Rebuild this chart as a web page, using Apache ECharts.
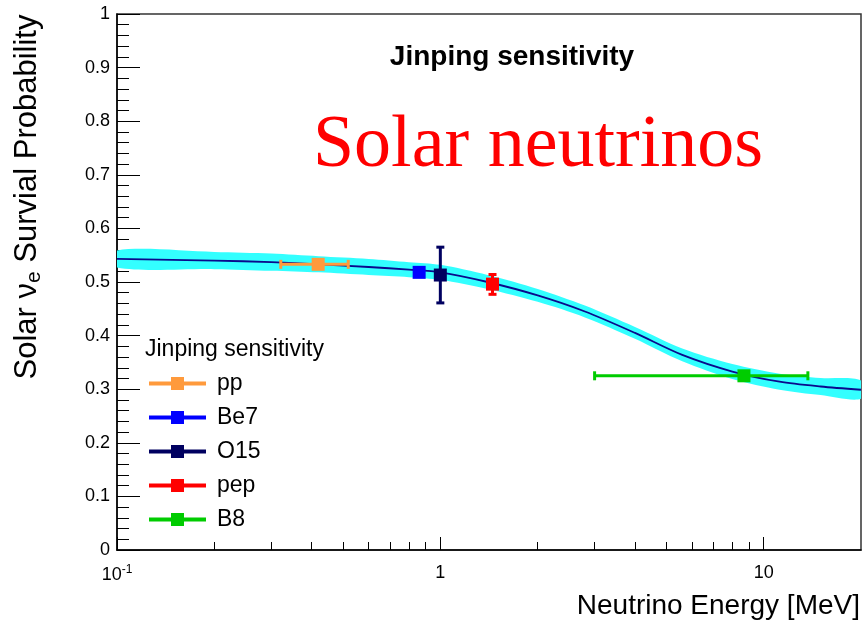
<!DOCTYPE html>
<html>
<head>
    <meta charset="utf-8">
    <title>Solar neutrinos</title>
    <script src="https://cdn.jsdelivr.net/npm/echarts@6/dist/echarts.min.js"></script>
    <style>
        body { margin: 0; background: #fff; }
    </style>
</head>
<body>
    <div id="main" style="width: 862px;height:628px;"></div>
    <script type="text/javascript">
        // survival probability curve (energy in MeV)
        var curveE = [0.1, 0.2, 0.3, 0.42, 0.6, 0.8, 1.0, 1.4, 2.0, 2.8, 4.0, 5.6, 8, 11.2, 15, 20];
        var curveP = [0.543, 0.540, 0.537, 0.533, 0.528, 0.523, 0.518, 0.500, 0.475, 0.445, 0.405, 0.364, 0.333, 0.314, 0.305, 0.299];
        // cyan uncertainty band
        var bandHi = [0.559, 0.556, 0.553, 0.548, 0.543, 0.537, 0.532, 0.513, 0.487, 0.456, 0.416, 0.376, 0.347, 0.329, 0.321, 0.316];
        var bandLo = [0.527, 0.524, 0.521, 0.518, 0.513, 0.509, 0.504, 0.487, 0.463, 0.434, 0.394, 0.352, 0.319, 0.299, 0.289, 0.282];

        // Jinping sensitivity points
        var srcNames = ['pp', 'Be7', 'O15', 'pep', 'B8'];
        var srcE     = [0.419, 0.86, 1.0, 1.45, 8.69];
        var srcP     = [0.533, 0.518, 0.513, 0.496, 0.325];
        var srcElo   = [0.321, 0.86, 1.0, 1.45, 3.0];
        var srcEhi   = [0.519, 0.86, 1.0, 1.45, 13.7];
        var srcPlo   = [0.533, 0.518, 0.461, 0.477, 0.325];
        var srcPhi   = [0.533, 0.518, 0.565, 0.514, 0.325];
        var srcColors = ['#ff9a3c', '#0000ff', '#000060', '#ff0000', '#00cc00'];

        var xMajor = [0.1, 1, 10];
        var xMinor = [0.2, 0.3, 0.4, 0.5, 0.6, 0.7, 0.8, 0.9, 2, 3, 4, 5, 6, 7, 8, 9];

        var FONT = 'Liberation Sans';
        var myChart = echarts.init(document.getElementById('main'));

        var legendIcon = 'path://M0,4.5L57,4.5L57,8.5L0,8.5Z M22,0L35,0L35,13L22,13Z';

        function renderBand(params, api) {
            if (params.dataIndex !== 0) return;
            var pts = [];
            for (var i = 0; i < curveE.length; i++) pts.push(api.coord([curveE[i], bandHi[i]]));
            for (var j = curveE.length - 1; j >= 0; j--) pts.push(api.coord([curveE[j], bandLo[j]]));
            return {
                type: 'polygon',
                shape: { points: pts, smooth: 0.3 },
                style: { fill: '#33ffff' }
            };
        }

        function renderErr(params, api) {
            var i = params.dataIndex;
            var col = srcColors[i];
            var xl = api.coord([api.value(2), api.value(1)]);
            var xh = api.coord([api.value(3), api.value(1)]);
            var yl = api.coord([api.value(0), api.value(4)]);
            var yh = api.coord([api.value(0), api.value(5)]);
            var st = { stroke: col, lineWidth: 3 };
            var kids = [];
            if (xh[0] - xl[0] > 1) {
                kids.push({ type: 'line', shape: { x1: xl[0], y1: xl[1], x2: xh[0], y2: xh[1] }, style: st });
                kids.push({ type: 'line', shape: { x1: xl[0], y1: xl[1] - 4.5, x2: xl[0], y2: xl[1] + 4.5 }, style: st });
                kids.push({ type: 'line', shape: { x1: xh[0], y1: xh[1] - 4.5, x2: xh[0], y2: xh[1] + 4.5 }, style: st });
            }
            if (yl[1] - yh[1] > 1) {
                kids.push({ type: 'line', shape: { x1: yl[0], y1: yl[1], x2: yh[0], y2: yh[1] }, style: st });
                kids.push({ type: 'line', shape: { x1: yl[0] - 4, y1: yl[1], x2: yl[0] + 4, y2: yl[1] }, style: st });
                kids.push({ type: 'line', shape: { x1: yh[0] - 4, y1: yh[1], x2: yh[0] + 4, y2: yh[1] }, style: st });
            }
            return { type: 'group', children: kids };
        }

        var series = [
            {
                type: 'custom',
                name: 'band',
                renderItem: renderBand,
                data: curveE.map(function (e, i) { return [e, bandLo[i], bandHi[i]]; }),
                encode: { x: 0, y: [1, 2] },
                clip: true,
                silent: true,
                z: 1
            },
            {
                type: 'line',
                name: 'curve',
                data: curveE.map(function (e, i) { return [e, curveP[i]]; }),
                smooth: 0.3,
                showSymbol: false,
                lineStyle: { color: '#0a0a8c', width: 1.8 },
                silent: true,
                z: 2
            },
            {
                type: 'custom',
                name: 'errors',
                renderItem: renderErr,
                data: srcE.map(function (e, i) { return [e, srcP[i], srcElo[i], srcEhi[i], srcPlo[i], srcPhi[i]]; }),
                encode: { x: [0, 2, 3], y: [1, 4, 5] },
                silent: true,
                z: 3
            }
        ];
        srcNames.forEach(function (n, i) {
            series.push({
                type: 'scatter',
                name: n,
                symbol: 'rect',
                symbolSize: 13,
                itemStyle: { color: srcColors[i], opacity: 1 },
                data: [[srcE[i], srcP[i]]],
                z: 4
            });
        });

        var option = {
            animation: false,
            backgroundColor: '#fff',
            grid: {
                left: 117, right: 1, top: 14, bottom: 78,
                show: true, borderColor: '#333', borderWidth: 1.5, backgroundColor: 'transparent'
            },
            legend: {
                orient: 'vertical',
                left: 149, top: 372,
                itemWidth: 57, itemHeight: 13, itemGap: 11,
                padding: 0,
                selectedMode: false,
                itemStyle: { opacity: 1 },
                textStyle: { fontFamily: FONT, fontSize: 23, color: '#000', lineHeight: 23, padding: [0, 0, 0, 6] },
                data: srcNames.map(function (n) { return { name: n, icon: legendIcon }; })
            },
            xAxis: [
                {
                    type: 'log', logBase: 10, min: 0.1, max: 20, position: 'bottom',
                    axisLine: { lineStyle: { color: '#000', width: 1.5 } },
                    axisTick: { inside: true, length: 13, customValues: xMajor, lineStyle: { color: '#000' } },
                    axisLabel: {
                        customValues: xMajor,
                        margin: 14,
                        color: '#000', fontFamily: FONT, fontSize: 18,
                        formatter: function (v) {
                            if (v < 0.5) return '{a|10}{s|-1}';
                            return '{a|' + Math.round(v) + '}';
                        },
                        rich: {
                            a: { fontFamily: FONT, fontSize: 18, color: '#000' },
                            s: { fontFamily: FONT, fontSize: 12, color: '#000', padding: [0, 0, 10, 0] }
                        }
                    },
                    splitLine: { show: false }
                },
                {
                    type: 'log', logBase: 10, min: 0.1, max: 20, position: 'bottom',
                    axisLine: { show: false },
                    axisTick: { inside: true, length: 8, customValues: xMinor, lineStyle: { color: '#000' } },
                    axisLabel: { show: false },
                    splitLine: { show: false }
                }
            ],
            yAxis: {
                type: 'value', min: 0, max: 1, interval: 0.1,
                axisLine: { show: true, lineStyle: { color: '#000', width: 1.5 } },
                axisTick: { inside: true, length: 23, lineStyle: { color: '#000' } },
                minorTick: { show: true, splitNumber: 5, length: 12, lineStyle: { color: '#000' } },
                splitLine: { show: false },
                axisLabel: { margin: 7, color: '#000', fontFamily: FONT, fontSize: 18 }
            },
            graphic: [
                {
                    type: 'text', x: 512, y: 57,
                    style: { text: 'Jinping sensitivity', fill: '#000', font: 'bold 28px "Liberation Sans"', align: 'center', verticalAlign: 'middle' }
                },
                {
                    type: 'text', x: 538, y: 147,
                    style: { text: 'Solar neutrinos', fill: '#ff0000', font: '74px "Liberation Serif"', align: 'center', verticalAlign: 'middle' }
                },
                {
                    type: 'text', x: 145, y: 350,
                    style: { text: 'Jinping sensitivity', fill: '#000', font: '23px "Liberation Sans"', align: 'left', verticalAlign: 'middle' }
                },
                {
                    type: 'text', x: 860, y: 606,
                    style: { text: 'Neutrino Energy [MeV]', fill: '#000', font: '28px "Liberation Sans"', align: 'right', verticalAlign: 'middle' }
                },
                {
                    type: 'text', x: 27, y: 197, rotation: Math.PI / 2,
                    style: {
                        text: 'Solar \u03bd{e|e} Survial Probability',
                        fill: '#000', font: '31px "Liberation Sans"', align: 'center', verticalAlign: 'middle',
                        rich: { e: { fontSize: 21, fontFamily: FONT, fill: '#000', padding: [15, 0, 0, 0] } }
                    }
                }
            ],
            series: series
        };

        myChart.setOption(option);
    </script>
</body>
</html>
